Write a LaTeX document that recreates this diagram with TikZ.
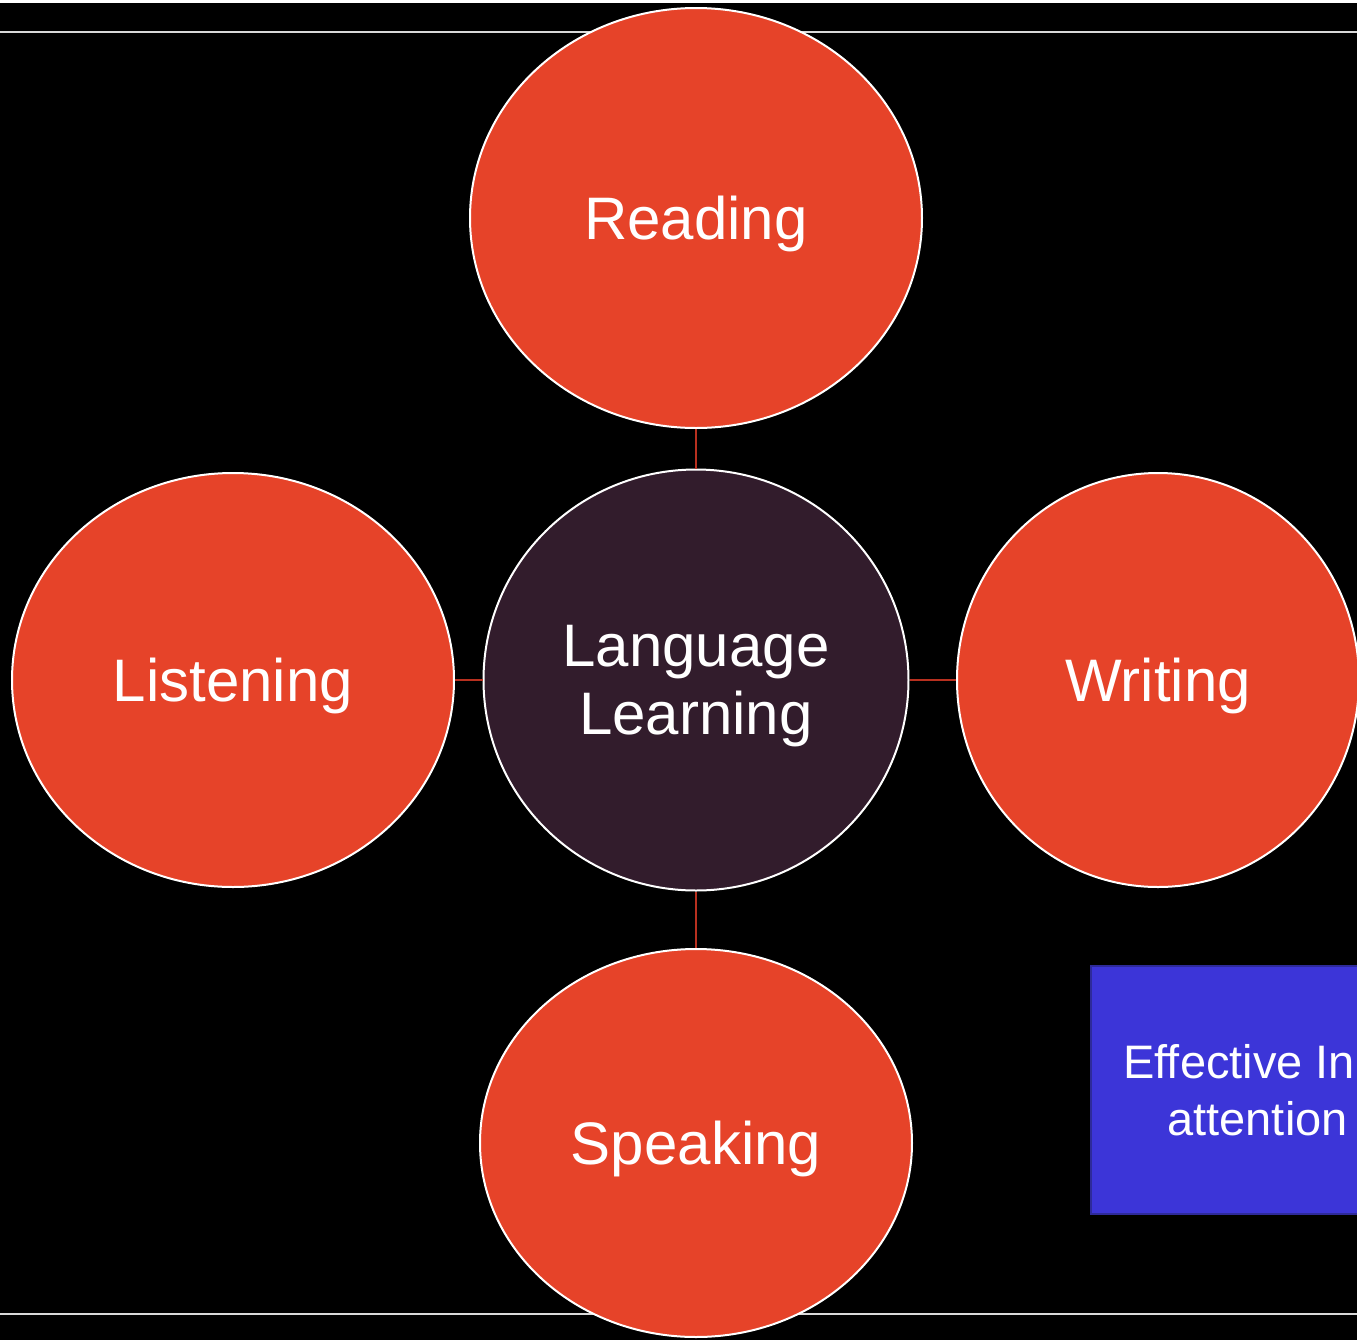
\documentclass[tikz,border=0pt]{standalone}
\usepackage{fontspec}
\setmainfont{Liberation Sans}
\usetikzlibrary{shapes.geometric}
\definecolor{bubble}{HTML}{E64329}
\definecolor{hub}{HTML}{321C2C}
\definecolor{link}{HTML}{B8301F}
\definecolor{boxblue}{HTML}{3C35D8}
\definecolor{boxedge}{HTML}{2E2A9A}
\tikzset{
  bub/.style={ellipse, draw=white, line width=1pt, fill=bubble, inner sep=0pt, text=white, font=\fontsize{30}{34}\selectfont, align=center, text depth=0pt},
  hubstyle/.style={bub, fill=hub},
  conn/.style={draw=link, line width=1.2pt},
  rule/.style={draw=white!85!black, line width=1pt},
  boxtext/.style={text=white, font=\fontsize{23.5}{28.5}\selectfont, inner sep=0pt}
}
\begin{document}
\begin{tikzpicture}[x=0.5pt,y=-0.5pt]
\useasboundingbox (0,0) rectangle (1357,1340);
\clip (0,0) rectangle (1357,1340);
\fill[black] (0,0) rectangle (1357,1340);
\fill[white] (0,0) rectangle (1357,3);
\draw[rule] (0,31.5) -- (1357,31.5);
\draw[rule] (0,1314) -- (1357,1314);
% blue box
\node[draw=boxedge, line width=1pt, fill=boxblue, anchor=north west, minimum width=160pt, minimum height=124pt, inner sep=0pt] (box) at (1090,965) {};
\node[boxtext, anchor=base west] (boxa) at (1123,1078) {Effective In};
\node[boxtext, anchor=base west] (boxb) at (1167,1135) {attention};
% bubbles
\node[hubstyle, minimum width=212.5pt, minimum height=210.5pt] (center) at (696,680) {Language\\Learning};
\node[bub, minimum width=226pt, minimum height=210pt] (reading) at (696,218) {Reading};
\node[bub, minimum width=221pt, minimum height=207pt] (listening) at (233,680) {Listening};
\node[bub, minimum width=201pt, minimum height=207pt] (writing) at (1158,680) {Writing};
\node[bub, minimum width=216pt, minimum height=194pt] (speaking) at (696,1143) {Speaking};
% connectors
\draw[conn] (reading.south) -- (center.north);
\draw[conn] (listening.east) -- (center.west);
\draw[conn] (center.east) -- (writing.west);
\draw[conn] (center.south) -- (speaking.north);
\end{tikzpicture}
\end{document}
